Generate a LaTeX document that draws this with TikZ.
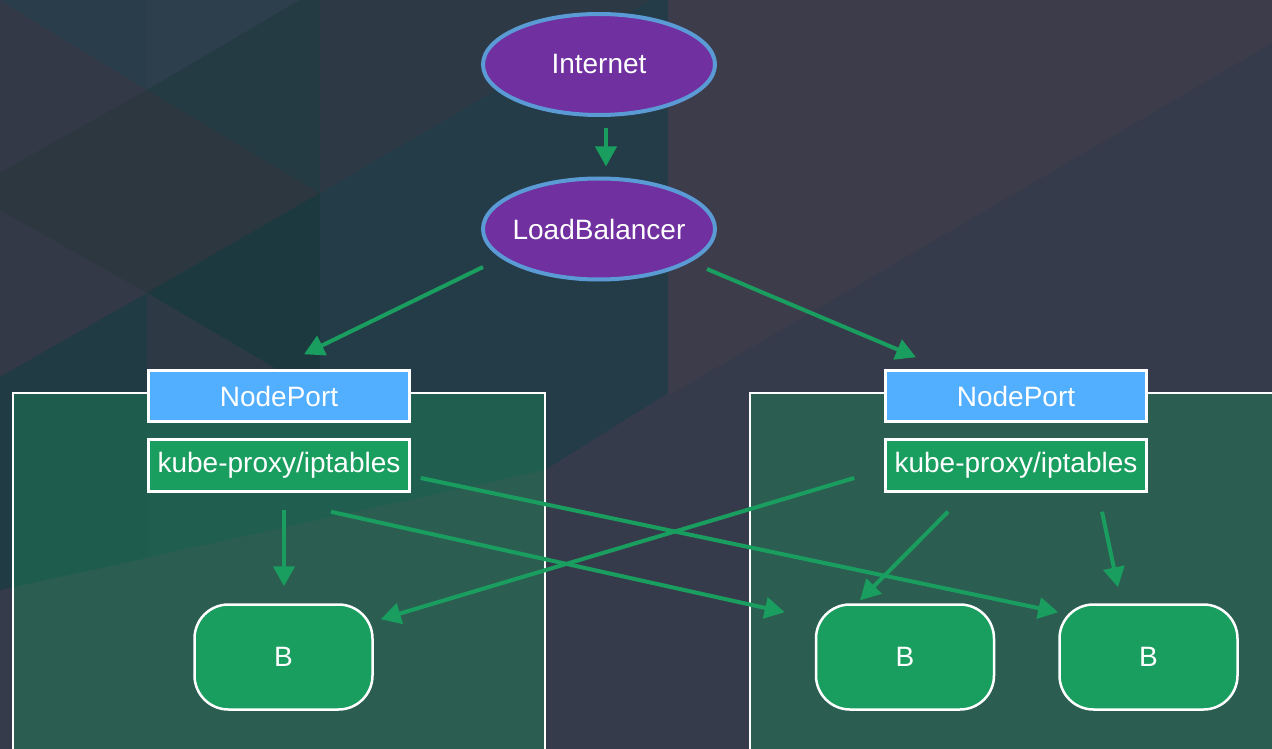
\documentclass[tikz,border=0pt]{standalone}
\usepackage{fontspec}
\setmainfont{Liberation Sans}
\usetikzlibrary{shapes.geometric,arrows.meta,calc}
\definecolor{bgbase}{HTML}{353B4A}
\definecolor{bgpurple}{HTML}{3D3C4B}
\definecolor{bgteal}{HTML}{243C47}
\definecolor{bggrey}{HTML}{2D3A45}
\definecolor{bgslate}{HTML}{333946}
\definecolor{bgband}{HTML}{2C3740}
\definecolor{bgdark}{HTML}{1C3940}
\definecolor{bgmid}{HTML}{253B44}
\definecolor{bgblue}{HTML}{2A3D4B}
\definecolor{bglight}{HTML}{2D3F4D}
\definecolor{bgstrip}{HTML}{213B45}
\definecolor{agreen}{HTML}{1A9E5F}
\definecolor{epurple}{HTML}{7030A0}
\definecolor{eborder}{HTML}{5B9BD5}
\definecolor{npblue}{HTML}{52AEFF}
\tikzset{
  oval/.style={ellipse, draw=eborder, line width=4pt, fill=epurple, text=white,
    minimum width=232pt, minimum height=101pt, inner sep=0pt, font=\fontsize{28}{32}\selectfont},
  portbox/.style={rectangle, draw=white, line width=2.5pt, fill=npblue, text=white,
    minimum width=261pt, minimum height=51pt, inner sep=0pt, font=\fontsize{28}{32}\selectfont},
  proxybox/.style={rectangle, draw=white, line width=2.5pt, fill=agreen, text=white,
    minimum width=261pt, minimum height=52pt, inner sep=0pt, font=\fontsize{28}{32}\selectfont},
  podbox/.style={rectangle, rounded corners=34pt, draw=white, line width=2.5pt, fill=agreen, text=white,
    minimum width=178pt, minimum height=105pt, inner sep=0pt, font=\fontsize{28}{32}\selectfont},
  hostbox/.style={fill=agreen, fill opacity=0.35},
  arr/.style={draw=agreen, line width=4pt, -{Triangle[length=20pt,width=21pt]}}
}
\begin{document}
\begin{tikzpicture}[x=1pt,y=-1pt]
\useasboundingbox (0,0) rectangle (1272,749);
\clip (0,0) rectangle (1272,749);
% background
\fill[bgbase] (0,0) rectangle (1272,749);
\fill[bgpurple] (668,0) -- (1272,0) -- (1272,43) -- (668,396) -- cycle;
\fill[bgteal] (0,0) -- (668,0) -- (668,393) -- (545,470) -- (0,590) -- cycle;
\fill[bgslate] (0,0) -- (147,90) -- (0,173) -- cycle;
\fill[bgband] (0,173) -- (147,90) -- (320,193) -- (147,293) -- (0,210) -- cycle;
\fill[bgslate] (0,210) -- (147,293) -- (0,377) -- cycle;
\fill[bgblue] (0,0) -- (147,0) -- (147,90) -- cycle;
\fill[bglight] (147,0) -- (300,0) -- (147,90) -- cycle;
\fill[bgmid] (147,90) -- (300,0) -- (320,0) -- (320,193) -- cycle;
\fill[bggrey] (320,0) -- (650,0) -- (320,193) -- cycle;
\fill[bgdark] (147,293) -- (320,193) -- (320,400) -- (273,367) -- cycle;
\fill[bggrey] (147,293) -- (273,367) -- (300,400) -- (147,400) -- cycle;
\fill[bgstrip] (0,377) -- (147,293) -- (147,558) -- (0,590) -- cycle;
% hosts
\path[hostbox] (13,393) rectangle (545,760);
\path[hostbox] (750,393) rectangle (1280,760);
\draw[white, line width=2pt] (13,760) -- (13,393) -- (545,393) -- (545,760);
\draw[white, line width=2pt] (750,760) -- (750,393) -- (1280,393);
% nodes
\node[oval] (inet) at (599,64.5) {\makebox[0pt]{Internet}};
\node[oval] (lb) at (599,229) {\makebox[0pt]{LoadBalancer}};
\node[portbox] (lnp) at (279,396) {NodePort};
\node[proxybox] (lk) at (279,465.5) {kube-proxy/iptables};
\node[portbox] (rnp) at (1016,396) {NodePort};
\node[proxybox] (rk) at (1016,465.5) {kube-proxy/iptables};
\node[podbox] (lB) at (283.5,657) {B};
\node[podbox] (rBa) at (905,657) {B};
\node[podbox] (rBb) at (1148.5,657) {B};
% connectors
\draw[arr] ($(inet.south)+(7,11)$) -- ($(lb.north)+(7,-10)$);
\draw[arr] ($(lb.center)+(-116,38)$) -- ($(lnp.north)+(25,-15)$);
\draw[arr] ($(lb.center)+(108,40)$) -- ($(rnp.north)+(-100,-12)$);
\draw[arr] ($(lk.south)+(5,17)$) -- ($(lB.north)+(0.5,-17)$);
\draw[arr] ($(lk.south)+(52,19)$) -- ($(rBa.north west)+(-30,9)$);
\draw[arr] ($(lk.east)+(10,12.5)$) -- ($(rBb.north west)+(0,9)$);
\draw[arr] ($(rk.west)+(-30,12.5)$) -- ($(lB.north east)+(7,16)$);
\draw[arr] ($(rk.south)+(-68,19)$) -- ($(rBa.north)+(-45,-3)$);
\draw[arr] ($(rk.south)+(86,19)$) -- ($(rBb.north)+(-30.5,-16)$);
\end{tikzpicture}
\end{document}
